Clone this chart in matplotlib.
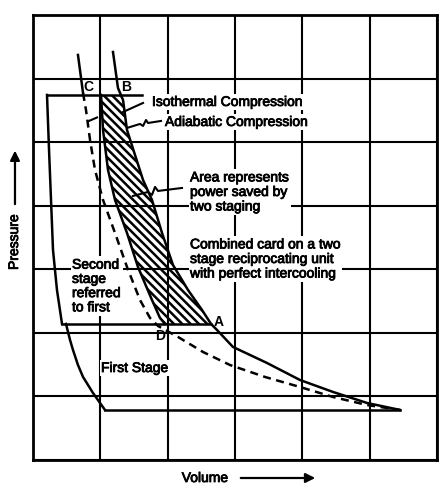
import matplotlib
matplotlib.use("Agg")
import matplotlib.pyplot as plt
import matplotlib.patches as mpatches
import matplotlib.patheffects as pe

plt.rcParams['font.family'] = ['Liberation Sans', 'DejaVu Sans']
plt.rcParams['hatch.linewidth'] = 1.8

# chart grid (volume columns, pressure rows)
grid_cols = [0, 1, 2, 3, 4, 5, 6]
grid_rows = [0, 1, 2, 3, 4, 5, 6, 7]

# pressure levels of the card
final_p = 5.742     # second stage discharge
inter_p = 2.14      # intercooler pressure (D - A)
suction_p = 0.787   # first stage suction

# single stage compression curve (solid, through B and A)
adiab_vol = [1.188, 1.262, 1.337, 1.396, 1.634, 1.767, 1.916, 2.079, 2.302, 2.510,
             2.644, 2.733, 2.970, 3.475, 3.966, 4.456, 4.961, 5.451]
adiab_pres = [6.418, 5.852, 5.663, 5.191, 4.405, 4.090, 3.571, 3.067, 2.674, 2.360,
              2.14, 2.045, 1.778, 1.526, 1.258, 1.070, 0.897, 0.787]

# isothermal curve (through C and D)
iso_vol = [0.668, 0.743, 0.787, 0.847, 0.921, 1.040, 1.218, 1.396, 1.589, 1.738,
           1.857, 2.154, 2.525, 2.926, 3.446, 3.966, 4.456, 4.961, 5.451]
iso_pres = [6.371, 5.773, 5.506, 5.034, 4.562, 4.090, 3.571, 3.036, 2.517, 2.234,
            2.108, 1.935, 1.699, 1.494, 1.306, 1.148, 0.991, 0.865, 0.787]

# second stage compression from D
stage2_vol = [1.010, 1.040, 1.114, 1.218, 1.396, 1.559, 1.767, 1.886, 1.960]
stage2_pres = [5.742, 5.191, 4.562, 4.090, 3.571, 3.036, 2.517, 2.234, 2.14]

# re-expansion lines
reexp2_vol = [0.208, 0.238, 0.297, 0.356, 0.431]
reexp2_pres = [5.742, 4.877, 3.303, 2.674, 2.14]
reexp1_vol = [0.490, 0.550, 0.594, 0.668, 0.743, 0.891, 0.995, 1.069]
reexp1_pres = [2.14, 1.888, 1.730, 1.494, 1.306, 1.054, 0.897, 0.787]

fig = plt.figure(figsize=(4.46, 4.88), dpi=100)
ax = fig.add_axes([0.074, 0.0574, 0.9058, 0.9119])
ax.set_xlim(grid_cols[0], grid_cols[-1])
ax.set_ylim(grid_rows[0], grid_rows[-1])
ax.set_xticks(grid_cols)
ax.set_yticks(grid_rows)
ax.tick_params(length=0, labelbottom=False, labelleft=False)
ax.set_axisbelow(True)
ax.grid(True, color='black', lw=1.5)
for s in ax.spines.values():
    s.set_linewidth(2)

lw = 1.8
# card outlines
ax.plot([reexp2_vol[0], 1.619], [final_p, final_p], color='black', lw=lw, zorder=4)
ax.plot(reexp2_vol, reexp2_pres, color='black', lw=lw, zorder=4)
ax.plot([reexp2_vol[-1], adiab_vol[10]], [inter_p, inter_p], color='black', lw=lw, zorder=4)
ax.plot(reexp1_vol, reexp1_pres, color='black', lw=lw, zorder=4)
ax.plot([reexp1_vol[-1], adiab_vol[-1]], [suction_p, suction_p], color='black', lw=lw, zorder=4)

# compression curves
ax.plot(adiab_vol, adiab_pres, color='black', lw=lw, zorder=4)
ax.plot(iso_vol[:2], iso_pres[:2], color='black', lw=lw, zorder=4)
ax.plot(iso_vol[1:], iso_pres[1:], color='black', lw=lw, ls=(0, (3.2, 2.2)), zorder=4)
ax.plot(stage2_vol, stage2_pres, color='black', lw=lw, zorder=4)

# hatched area = power saved by two staging
poly_x = stage2_vol + adiab_vol[:11][::-1]
poly_y = stage2_pres + adiab_pres[:11][::-1]
shade = ax.fill(poly_x, poly_y, facecolor='none', edgecolor='black', hatch='\\\\\\\\', lw=0, zorder=2)[0]
clip = mpatches.Rectangle((0, inter_p), 6, final_p - inter_p, transform=ax.transData)
shade.set_clip_path(clip)

# leader lines
ax.plot([1.634, 1.337], [5.616, 5.474], color='black', lw=1.5, zorder=4)
ax.plot([0.951, 0.832], [5.388, 5.333], color='black', lw=1.5, zorder=4)
ax.plot([1.901, 1.708, 1.678, 1.634, 1.589, 1.396],
        [5.333, 5.301, 5.348, 5.254, 5.286, 5.223], color='black', lw=1.5, zorder=4)
ax.plot([2.213, 1.857, 1.812, 1.767, 1.708, 1.485],
        [4.279, 4.232, 4.295, 4.169, 4.216, 4.153], color='black', lw=1.5, zorder=4)

box = dict(facecolor='white', edgecolor='none', pad=1)
fs = 10
heavy = [pe.withStroke(linewidth=0.6, foreground='black')]
ax.text(1.767, 5.632, 'Isothermal Compression', fontsize=fs, va='center', bbox=box,
        zorder=3, path_effects=heavy)
ax.text(1.960, 5.317, 'Adiabatic Compression', fontsize=fs, va='center', bbox=box,
        zorder=3, path_effects=heavy)
ax.text(2.332, 4.216, 'Area represents\npower saved by\ntwo staging', fontsize=fs,
        va='center', linespacing=1.05, bbox=box, zorder=3, path_effects=heavy)
ax.text(2.332, 3.162, 'Combined card on a two\nstage reciprocating unit\nwith perfect intercooling',
        fontsize=fs, va='center', linespacing=1.05, bbox=box, zorder=3, path_effects=heavy)
ax.text(0.579, 2.737, 'Second\nstage\nreferred\nto first', fontsize=fs, va='center',
        linespacing=1.02, bbox=box, zorder=3, path_effects=heavy)
ax.text(1.010, 1.447, 'First Stage', fontsize=fs, va='center', bbox=box, zorder=3,
        path_effects=heavy)

# point letters
for lab, x, y in [('C', 0.817, 5.868), ('B', 1.381, 5.868), ('D', 1.886, 1.951), ('A', 2.763, 2.171)]:
    ax.text(x, y, lab, fontsize=10, fontweight='bold', ha='center', va='center', zorder=5)

# axis captions with arrows
fig.text(0.4596, 0.0205, 'Volume', fontsize=fs, ha='center', va='center', path_effects=heavy)
ax.annotate('', xy=(0.713, 0.0205), xytext=(0.5336, 0.0205), xycoords='figure fraction',
            arrowprops=dict(arrowstyle='-|>', lw=1.6, color='black', mutation_scale=14))
fig.text(0.0314, 0.504, 'Pressure', fontsize=fs, rotation=90, ha='center', va='center',
         path_effects=heavy)
ax.annotate('', xy=(0.0336, 0.697), xytext=(0.0336, 0.576), xycoords='figure fraction',
            arrowprops=dict(arrowstyle='-|>', lw=1.6, color='black', mutation_scale=14))

fig.savefig('out.png', dpi=100)
